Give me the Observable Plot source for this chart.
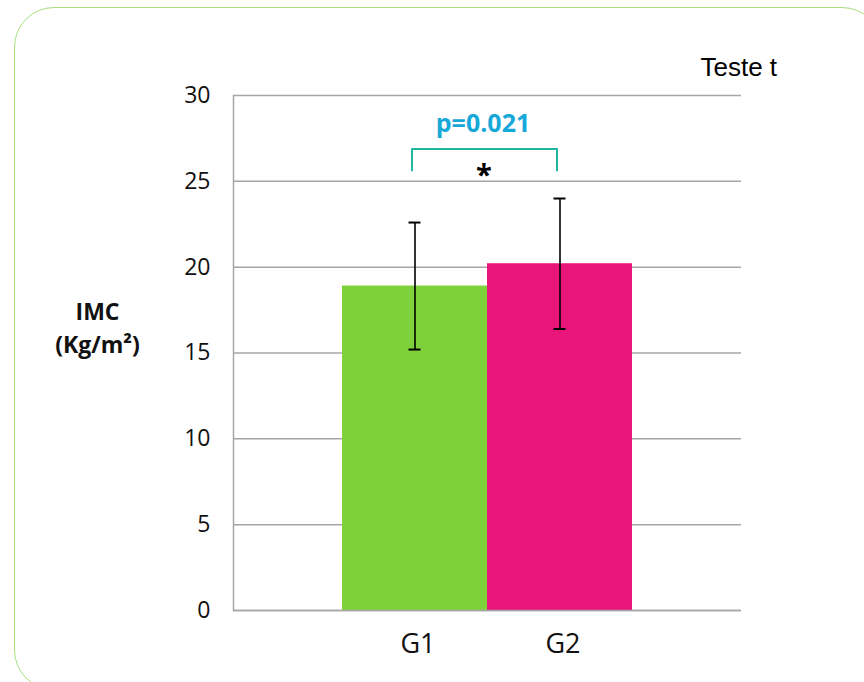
<!DOCTYPE html>
<html>
<head>
<meta charset="utf-8">
<script src="https://cdn.jsdelivr.net/npm/d3@7"></script>
<script src="https://cdn.jsdelivr.net/npm/@observablehq/plot@0.6"></script>
<style>
  html, body { margin: 0; padding: 0; background: #fff; }
  #wrap { position: relative; width: 864px; height: 682px; overflow: hidden; }
  #border { position: absolute; left: 14px; top: 7px; width: 868px; height: 683px;
            border: 1.5px solid #a8df7c; border-radius: 40px; box-sizing: border-box; }
  #chart { position: absolute; left: 0; top: 0; }
</style>
</head>
<body>
<div id="wrap"><div id="border"></div><div id="chart"></div></div>
<script>
// Data
const groups = ["G1", "G2"];
const means = [18.9, 20.2];
const sds = [3.7, 3.8];
const colors = ["#7fd13b", "#ea157b"];
const yTicks = [0, 5, 10, 15, 20, 25, 30];
const pLabel = "p=0.021";
const starLabel = "*";
const bracketLow = 25.63, bracketHigh = 26.89;
const pLevel = 28.35, starLevel = 25.3;
const yLabel = "IMC\n(Kg/m²)";
const testLabel = "Teste t";

const data = groups.map((g, i) => ({group: g, mean: means[i], sd: sds[i], color: colors[i]}));
const bracket = [
  {group: groups[0], y: bracketLow},
  {group: groups[0], y: bracketHigh},
  {group: groups[1], y: bracketHigh},
  {group: groups[1], y: bracketLow}
];

const grid = "#a6a6a6";

const chart = Plot.plot({
  width: 864,
  height: 682,
  marginLeft: 233,
  marginRight: 123,
  marginTop: 95,
  marginBottom: 72,
  style: {fontFamily: "'Open Sans', sans-serif", color: "#111", background: "transparent"},
  x: {domain: groups, paddingInner: 0, paddingOuter: 0.75, axis: null},
  y: {domain: [0, 30], ticks: yTicks, axis: null},
  marks: [
    Plot.ruleY(yTicks, {stroke: grid, strokeWidth: 1.5}),
    Plot.frame({anchor: "left", stroke: grid, strokeWidth: 1.5}),
    Plot.barY(data, {x: "group", y: "mean", fill: "color"}),
    Plot.ruleY([0], {stroke: grid, strokeWidth: 1.5}),
    Plot.ruleX(data, {x: "group", y1: d => d.mean - d.sd, y2: d => d.mean + d.sd, stroke: "#000", strokeWidth: 1.6}),
    Plot.tickY(data, {x: "group", y: d => d.mean + d.sd, stroke: "#000", strokeWidth: 2, insetLeft: 66.5, insetRight: 66.5}),
    Plot.tickY(data, {x: "group", y: d => d.mean - d.sd, stroke: "#000", strokeWidth: 2, insetLeft: 66.5, insetRight: 66.5}),
    Plot.line(bracket, {x: "group", y: "y", stroke: "#1fb59e", strokeWidth: 2, dx: -3, strokeLinejoin: "round", curve: "linear"}),
    Plot.text([pLabel], {x: () => groups[1], y: () => pLevel, text: d => d, dx: -77, fill: "#17a8da", fontSize: 25, fontWeight: "bold", lineAnchor: "middle"}),
    Plot.text([starLabel], {x: () => groups[1], y: () => starLevel, text: d => d, dx: -76, fill: "#000", fontSize: 29, fontWeight: "bold", lineAnchor: "middle"}),
    Plot.axisY({ticks: yTicks, tickSize: 0, tickPadding: 23, fontSize: 23, label: null}),
    Plot.axisX({tickSize: 0, tickPadding: 23, fontSize: 27, label: null, dx: 3}),
    Plot.text([yLabel], {frameAnchor: "left", text: d => d, dx: -136, dy: -27, textAnchor: "middle", fontSize: 23, fontWeight: "bold", lineHeight: 1.42, lineAnchor: "middle", fill: "#111"}),
    Plot.text([testLabel], {frameAnchor: "top-right", text: d => d, dx: -41, dy: -28.3, textAnchor: "start", fontSize: 26, lineAnchor: "middle", fontFamily: "'Liberation Sans', Arial, sans-serif", fill: "#000"})
  ]
});
document.getElementById("chart").appendChild(chart);
</script>
</body>
</html>
